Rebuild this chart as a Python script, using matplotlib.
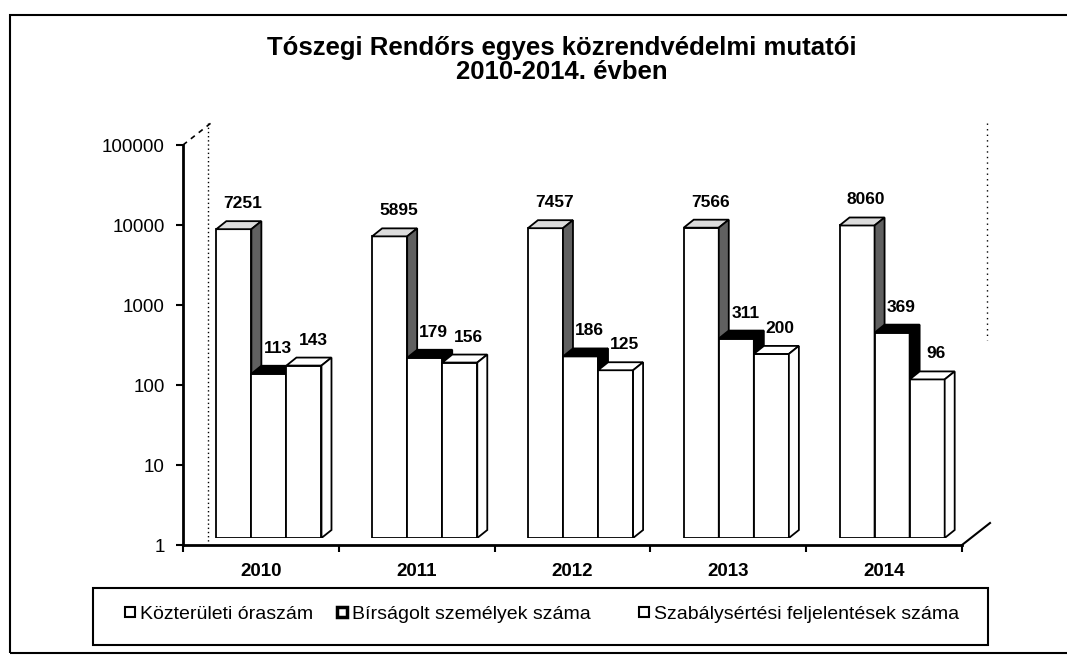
import numpy as np
import matplotlib.pyplot as plt
from matplotlib.patches import Polygon, Rectangle
from matplotlib.lines import Line2D

# data
years = ['2010', '2011', '2012', '2013', '2014']
kozterulet = [7251, 5895, 7457, 7566, 8060]
birsag = [113, 179, 186, 311, 369]
szabs = [143, 156, 125, 200, 96]
names = ['Közterületi óraszám', 'Bírságolt személyek száma',
         'Szabálysértési feljelentések száma']
yticks = [1, 10, 100, 1000, 10000, 100000]

plt.rcParams['font.family'] = ['Liberation Sans', 'DejaVu Sans']

W, H = 1067, 657
fig = plt.figure(figsize=(W / 100, H / 100), dpi=100)


def box(l, t, r, b):
    return [l / W, 1 - b / H, (r - l) / W, (b - t) / H]


def fp(x, y):
    # image pixel -> figure fraction
    return x / W, 1 - y / H


# front frame (axis, floor edge) and the bar plane a bit deeper in the 3D box
FL, FT, FR, FB = 183, 145, 962, 545
DX, DY = 28, 22  # depth of the floor
axf = fig.add_axes(box(FL, FT, FR, FB))
ax = fig.add_axes(box(FL + 8, FT - 7, FR + 8, FB - 7))
for a in (axf, ax):
    a.set_yscale('log')
    a.set_ylim(1, 100000)
    a.set_xlim(-0.5, 4.5)
    a.patch.set_visible(False)

ax.axis('off')

for s in ['top', 'right']:
    axf.spines[s].set_visible(False)
axf.spines['left'].set_linewidth(2)
axf.spines['bottom'].set_linewidth(2)
axf.set_yticks(yticks, labels=[str(t) for t in yticks])
axf.minorticks_off()
axf.tick_params(axis='y', direction='out', length=5, width=1.5, labelsize=13.5, pad=8)
axf.set_xticks(np.arange(-0.5, 5, 1), labels=[])
axf.set_xticks(range(5), labels=years, minor=True)
axf.tick_params(axis='x', which='major', direction='out', length=5, width=1.5)
axf.tick_params(axis='x', which='minor', length=0, labelsize=13.5, pad=13)
for lbl in axf.get_xticklabels(minor=True):
    lbl.set_fontweight('bold')

# 3D-looking bars
w = 0.225
series = [kozterulet, birsag, szabs]
offs = [-w, 0, w]
top_c = ['#dcdcdc', 'black', 'white']
side_c = ['#606060', 'black', 'white']
depth = (10, 8)
inv = ax.transData.inverted()


def back(x, y):
    px, py = ax.transData.transform((x, y))
    return inv.transform((px + depth[0], py + depth[1]))


for i in range(len(years)):
    for k, vals in enumerate(series):
        v = vals[i]
        xc = i + offs[k]
        x0, x1 = xc - w / 2, xc + w / 2
        ax.bar(xc, v - 1, bottom=1, width=w, color='white', edgecolor='black',
               linewidth=1.3, zorder=3)
        top = [(x0, v), (x1, v), tuple(back(x1, v)), tuple(back(x0, v))]
        side = [(x1, 1), (x1, v), tuple(back(x1, v)), tuple(back(x1, 1))]
        ax.add_patch(Polygon(top, closed=True, fc=top_c[k], ec='black', lw=1.3, zorder=3))
        ax.add_patch(Polygon(side, closed=True, fc=side_c[k], ec='black', lw=1.3, zorder=3))
        ax.annotate(str(v), xy=(xc, v), xytext=(9, 18), textcoords='offset pixels',
                    ha='center', va='bottom', fontsize=12.5, fontweight='bold', zorder=5)

# walls / floor edges
fig.add_artist(Line2D(*zip(fp(FL + DX - 3, FT - DY), fp(FL + DX - 3, FB - 3)),
                      transform=fig.transFigure, color='black', lw=1, ls=(0, (1, 2))))
fig.add_artist(Line2D(*zip(fp(FL, FT), fp(FL + DX, FT - DY)),
                      transform=fig.transFigure, color='black', lw=1.2, ls=(0, (3, 3))))
fig.add_artist(Line2D(*zip(fp(FR, FB), fp(FR + DX, FB - DY)),
                      transform=fig.transFigure, color='black', lw=1.5))
fig.add_artist(Line2D(*zip(fp(FR + DX - 3, FT - DY), fp(FR + DX - 3, 340)),
                      transform=fig.transFigure, color='black', lw=1, ls=(0, (1, 3))))

# title
fig.text(*fp(562, 60), 'Tószegi Rendőrs egyes közrendvédelmi mutatói\n2010-2014. évben',
         ha='center', va='center', fontsize=18.5, fontweight='bold', linespacing=1.05)

# legend: three entries placed where the original has them
leg_x = [123, 335, 637]
for mw, name, lx in zip((1.5, 2.5, 1.5), names, leg_x):
    h = Line2D([], [], marker='s', ls='none', mfc='white', mec='black', ms=7, mew=mw)
    fig.legend([h], [name], loc='center left', bbox_to_anchor=fp(lx, 614),
               frameon=False, fontsize=14, handlelength=0.7, handletextpad=0.15,
               borderaxespad=0, borderpad=0)
x0, y0 = fp(93, 645)
x1, y1 = fp(988, 588)
fig.add_artist(Rectangle((x0, y0), x1 - x0, y1 - y0, transform=fig.transFigure,
                         fill=False, ec='black', lw=1.5))

# outer chart border
x0, y0 = fp(10, 653)
x1, y1 = fp(1080, 15)
fig.add_artist(Rectangle((x0, y0), x1 - x0, y1 - y0, transform=fig.transFigure,
                         fill=False, ec='black', lw=1.5, clip_on=False))

fig.savefig('out.png', dpi=100)
